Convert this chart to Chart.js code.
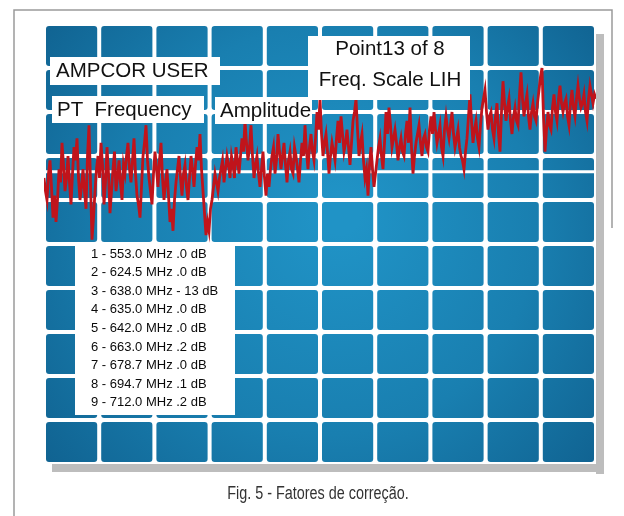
<!DOCTYPE html>
<html>
<head>
<meta charset="utf-8">
<script src="https://cdn.jsdelivr.net/npm/chart.js@4"></script>
<style>
  html, body { margin: 0; padding: 0; background: #ffffff; }
  #wrap { width: 624px; height: 516px; position: relative; }
</style>
</head>
<body>
<div id="wrap"><canvas id="scope" width="624" height="516"></canvas></div>
<script>
// Sweep settings of the analyzer screen
const sweepStartMHz = 550;
const sweepStopMHz = 715;
const refLevelDb = 0;
const dbPerDiv = 10;
const xDivisions = 10;
const yDivisions = 10;
const splitLineDb = -33.6;

// Measured trace level (dB), one reading per sweep point
const levelDb = [
  -35, -38, -40, -34, -31, -37, -44, -39, -45, -40, -33, -36, -27, -32, -38, -35, -30, -36, -41, -34,
  -28, -31, -26, -35, -40, -37, -33, -38, -42, -30, -23, -36, -49, -44, -38, -33, -30, -35, -27, -32,
  -41, -36, -28, -34, -43, -38, -33, -29, -38, -35, -31, -36, -40, -32, -34, -30, -27, -33, -36, -31,
  -26, -34, -39, -41, -44, -37, -30, -27, -23, -31, -35, -38, -41, -34, -29, -33, -37, -31, -27, -35,
  -40, -36, -33, -39, -45, -42, -47, -40, -36, -33, -30, -35, -39, -34, -32, -37,
  -40, -35, -30, -33, -37, -32, -28, -31, -25, -33, -38, -43, -48, -45, -47, -42, -40, -37, -34, -36,
  -38, -35, -33, -31, -36, -33, -30, -32, -35, -30, -32, -35, -28, -31, -34, -30, -26, -29, -22, -27,
  -31, -28, -23, -30, -35, -32, -30, -34, -37, -33, -29, -35, -39, -34, -37, -33, -30, -28, -34, -31,
  -25, -29, -33, -30, -27, -32, -36, -31, -29, -33, -34, -28, -30, -33, -36, -31, -27, -30, -23, -29,
  -33, -28, -25, -29, -31, -26, -20, -24, -17, -25, -30, -27, -25, -29,
  -34, -30, -27, -29, -31, -26, -22, -27, -21, -25, -29, -27, -24, -28, -32, -27, -22, -20, -17, -24,
  -30, -27, -25, -31, -35, -33, -39, -32, -28, -33, -37, -34, -31, -28, -26, -30, -33, -27, -20, -25,
  -19, -23, -28, -26, -24, -27, -31, -28, -26, -29, -30, -25, -22, -27, -19, -28, -34, -30, -27, -25,
  -23, -27, -30, -26, -25, -28, -29, -24, -21, -25, -20, -24, -27, -25, -23, -28, -30, -24, -21, -24,
  -26, -23, -20, -25, -28, -26, -24, -28,
  -30, -31, -33, -29, -26, -21, -16, -22, -27, -24, -22, -26, -28, -23, -19, -17, -15, -20, -24, -21,
  -20, -24, -26, -21, -18, -25, -29, -20, -13, -18, -22, -19, -17, -22, -25, -21, -19, -22, -23, -16,
  -11, -17, -21, -18, -16, -21, -24, -20, -18, -21, -22, -18, -15, -12, -10, -21, -29, -24, -20, -23,
  -24, -19, -16, -20, -22, -17, -14, -18, -20, -18, -17, -21, -23, -18, -15, -19, -21, -17, -14, -17,
  -19, -18, -16, -20, -22, -17, -14, -16, -18, -16, -17
];

// Marker table
const markerNo = [1, 2, 3, 4, 5, 6, 7, 8, 9];
const markerFreqMHz = ['553.0', '624.5', '638.0', '635.0', '642.0', '663.0', '678.7', '694.7', '712.0'];
const markerAmp = ['.0', '.0', '- 13', '.0', '.0', '.2', '.0', '.1', '.2'];

// On-screen annotations
const userLabel = 'AMPCOR USER';
const colHeadPt = 'PT  Frequency';
const colHeadAmp = 'Amplitude';
const pointLine = 'Point13 of 8';
const scaleLine = 'Freq. Scale LIH';
const caption = 'Fig. 5 - Fatores de correção.';

const sweepStep = (sweepStopMHz - sweepStartMHz) / (levelDb.length - 1);
const tracePoints = levelDb.map((v, i) => ({ x: sweepStartMHz + i * sweepStep, y: v }));

const FONT = '"Liberation Sans", Arial, Helvetica, sans-serif';

function roundRect(ctx, x, y, w, h, r) {
  ctx.beginPath();
  ctx.moveTo(x + r, y);
  ctx.lineTo(x + w - r, y);
  ctx.quadraticCurveTo(x + w, y, x + w, y + r);
  ctx.lineTo(x + w, y + h - r);
  ctx.quadraticCurveTo(x + w, y + h, x + w - r, y + h);
  ctx.lineTo(x + r, y + h);
  ctx.quadraticCurveTo(x, y + h, x, y + h - r);
  ctx.lineTo(x, y + r);
  ctx.quadraticCurveTo(x, y, x + r, y);
  ctx.closePath();
}

// Paper frame, drop shadow and the tiled graticule of the screen
const screenPlugin = {
  id: 'screen',
  beforeDatasetsDraw(chart) {
    const { ctx, chartArea: a, scales: { x, y } } = chart;
    ctx.save();

    // page frame
    ctx.strokeStyle = '#9a9a9a';
    ctx.lineWidth = 1.5;
    ctx.beginPath();
    ctx.moveTo(14, 516); ctx.lineTo(14, 10); ctx.lineTo(612, 10); ctx.lineTo(612, 228);
    ctx.stroke();

    // drop shadow
    ctx.fillStyle = '#bdbdbd';
    ctx.fillRect(a.right, a.top + 10, 8, a.bottom - a.top);
    ctx.fillRect(a.left + 8, a.bottom, a.right - a.left, 8);

    const xStep = (sweepStopMHz - sweepStartMHz) / xDivisions;
    const cx = (a.left + a.right) / 2, cy = (a.top + a.bottom) / 2;
    const grad = ctx.createRadialGradient(cx + 20, cy - 30, 20, cx, cy, 390);
    grad.addColorStop(0, '#2093c6');
    grad.addColorStop(0.5, '#197fb0');
    grad.addColorStop(1, '#0e5c8a');
    ctx.fillStyle = grad;

    for (let i = 0; i < xDivisions; i++) {
      const x0 = x.getPixelForValue(sweepStartMHz + i * xStep);
      const x1 = x.getPixelForValue(sweepStartMHz + (i + 1) * xStep);
      for (let j = 0; j < yDivisions; j++) {
        const yTop = y.getPixelForValue(refLevelDb - j * dbPerDiv);
        const yBot = y.getPixelForValue(refLevelDb - (j + 1) * dbPerDiv);
        roundRect(ctx, x0 + 2, yTop + 2, x1 - x0 - 4, yBot - yTop - 4, 3);
        ctx.fill();
      }
    }

    // thin split line inside the reference division
    const ys = y.getPixelForValue(splitLineDb);
    ctx.strokeStyle = '#ffffff';
    ctx.lineWidth = 3;
    ctx.beginPath();
    ctx.moveTo(a.left, ys); ctx.lineTo(a.right, ys);
    ctx.stroke();
    ctx.restore();
  },
  afterDatasetsDraw(chart) {
    const { ctx } = chart;
    ctx.save();
    ctx.fillStyle = '#ffffff';
    // header boxes
    ctx.fillRect(50, 57, 170, 28);
    ctx.fillRect(52, 96, 152, 27);
    ctx.fillRect(215, 97, 97, 27);
    ctx.fillRect(308, 36, 162, 64);
    // marker table box
    ctx.fillRect(75, 243, 160, 172);

    ctx.fillStyle = '#111111';
    ctx.textBaseline = 'middle';
    ctx.font = '20.5px ' + FONT;
    ctx.textAlign = 'left';
    ctx.fillText(userLabel, 56, 71);
    ctx.fillText(colHeadPt, 57, 110);
    ctx.fillText(colHeadAmp, 220, 111);
    ctx.textAlign = 'center';
    ctx.fillText(pointLine, 390, 49);
    ctx.fillText(scaleLine, 390, 80);

    ctx.textAlign = 'left';
    ctx.font = '13px ' + FONT;
    ctx.fillStyle = '#0a0a0a';
    markerNo.forEach((n, k) => {
      const row = n + ' - ' + markerFreqMHz[k] + ' MHz ' + markerAmp[k] + ' dB';
      ctx.fillText(row, 91, 254 + k * 18.6);
    });

    // figure caption, set in a condensed cut
    ctx.fillStyle = '#333333';
    ctx.font = '18px ' + FONT;
    ctx.textAlign = 'center';
    ctx.translate(318, 494);
    ctx.scale(0.8, 1);
    ctx.fillText(caption, 0, 0);
    ctx.restore();
  }
};

new Chart(document.getElementById('scope'), {
  type: 'line',
  data: {
    datasets: [{
      data: tracePoints,
      borderColor: '#c0141b',
      borderWidth: 2.8,
      borderJoinStyle: 'miter',
      pointRadius: 0,
      tension: 0,
      fill: false
    }]
  },
  options: {
    responsive: false,
    animation: false,
    layout: { padding: { left: 44, right: 28, top: 24, bottom: 52 } },
    scales: {
      x: { type: 'linear', min: sweepStartMHz, max: sweepStopMHz, display: false },
      y: { type: 'linear', min: refLevelDb - yDivisions * dbPerDiv, max: refLevelDb, display: false }
    },
    plugins: {
      legend: { display: false },
      tooltip: { enabled: false },
      title: { display: false }
    }
  },
  plugins: [screenPlugin]
});
</script>
</body>
</html>
